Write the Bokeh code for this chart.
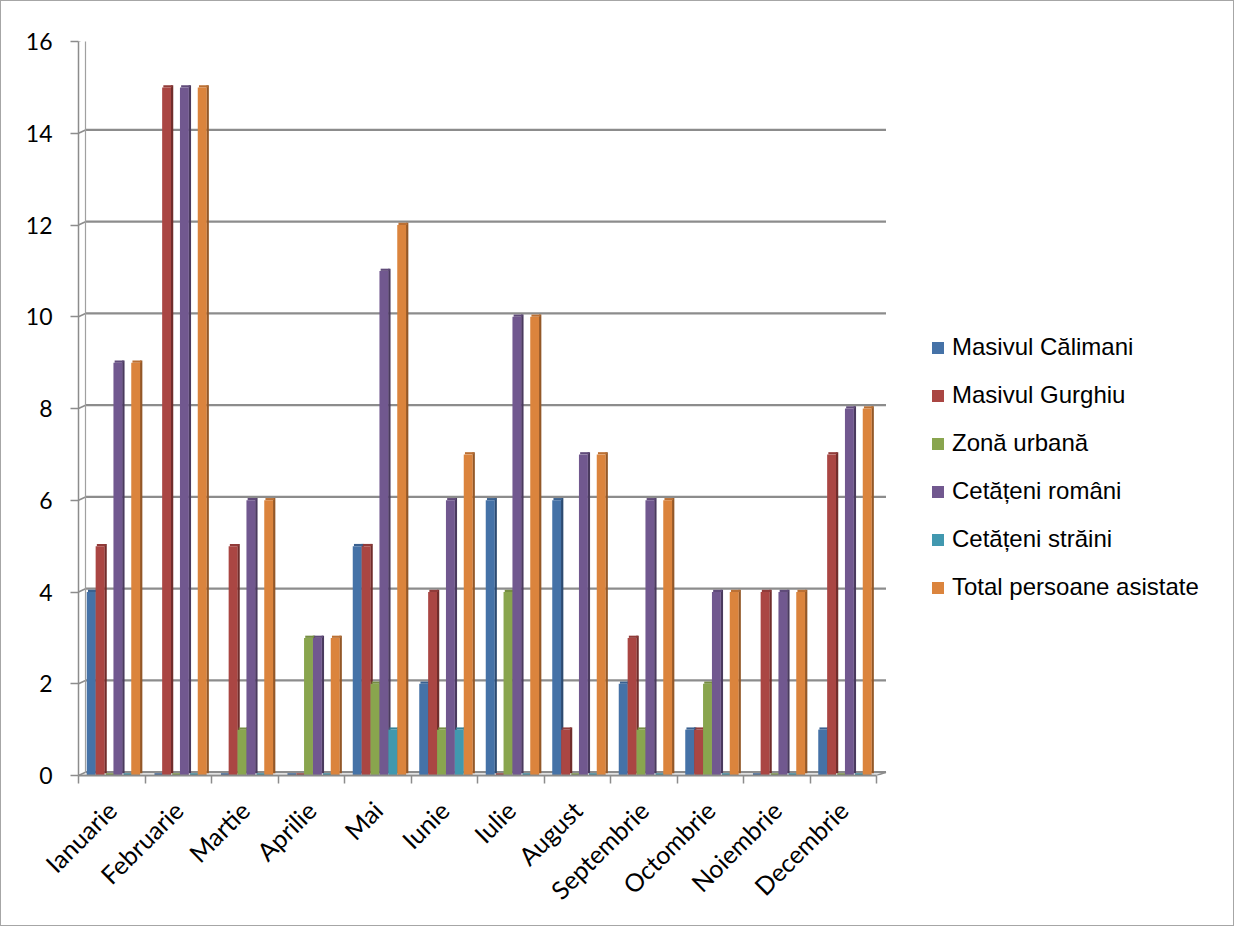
import math
from bokeh.plotting import figure
from bokeh.models import Range1d, FixedTicker, Legend, LegendItem
from bokeh.embed import file_html
from bokeh.resources import INLINE

months = ["Ianuarie", "Februarie", "Martie", "Aprilie", "Mai", "Iunie", "Iulie",
          "August", "Septembrie", "Octombrie", "Noiembrie", "Decembrie"]
series_names = ["Masivul Călimani", "Masivul Gurghiu", "Zonă urbană",
                "Cetățeni români", "Cetățeni străini", "Total persoane asistate"]
calimani = [4, 0, 0, 0, 5, 2, 6, 6, 2, 1, 0, 1]
gurghiu = [5, 15, 5, 0, 5, 4, 0, 1, 3, 1, 4, 7]
urbana = [0, 0, 1, 3, 2, 1, 4, 0, 1, 2, 0, 0]
romani = [9, 15, 6, 3, 11, 6, 10, 7, 6, 4, 4, 8]
straini = [0, 0, 0, 0, 1, 1, 0, 0, 0, 0, 0, 0]
total = [9, 15, 6, 3, 12, 7, 10, 7, 6, 4, 4, 8]
y_ticks = [0, 2, 4, 6, 8, 10, 12, 14, 16]

series = [calimani, gurghiu, urbana, romani, straini, total]
face_colors = ["#4572A7", "#AA4643", "#89A54E", "#71588F", "#4198AF", "#DB843D"]
cap_colors = ["#3A6190", "#913B39", "#758D42", "#604B7A", "#378296", "#BB7034"]
side_colors = ["#2C4A70", "#702D2B", "#5A6D33", "#4A3A5E", "#2B6574", "#935828"]

W, H = 1234, 926
LEFT, RIGHT, TOP, BOTTOM = 77, 4, 40, 152
PX = 66.5                          # pixels per category
PY = (H - TOP - BOTTOM) / 16       # pixels per y unit
x_start = -0.5
x_grid_end = -0.5 + (884.5 - LEFT) / PX
x_end = -0.5 + (W - LEFT - RIGHT) / PX

p = figure(width=W, height=H, output_backend="svg", toolbar_location=None,
           x_range=Range1d(x_start, x_end), y_range=Range1d(0, 16),
           min_border_left=LEFT, min_border_right=RIGHT, min_border_top=TOP,
           min_border_bottom=BOTTOM)
p.outline_line_color = None
p.xgrid.grid_line_color = None
p.ygrid.grid_line_color = None
p.background_fill_color = "white"
p.border_fill_color = "white"
p.styles = {"border": "1px solid #a6a6a6"}

grid_col = "#8c8c8c"
dx_back = 7 / PX
dy_back = 3.3 / PY
# back-wall gridlines and their diagonal joins to the front axis
p.segment(x0=[x_start + dx_back] * len(y_ticks), y0=[t + dy_back for t in y_ticks],
          x1=[x_grid_end] * len(y_ticks), y1=[t + dy_back for t in y_ticks],
          line_color=grid_col, line_width=2.2)
p.segment(x0=[x_start] * len(y_ticks), y0=y_ticks,
          x1=[x_start + dx_back] * len(y_ticks), y1=[t + dy_back for t in y_ticks],
          line_color=grid_col, line_width=1.5)
p.segment(x0=[x_start + dx_back], y0=[dy_back], x1=[x_start + dx_back], y1=[16 + dy_back],
          line_color="#a0a0a0", line_width=1.2)
p.segment(x0=[len(months) - 0.5], y0=[0], x1=[x_grid_end], y1=[dy_back],
          line_color=grid_col, line_width=1.5)

w = 8.9 / PX
sw = 2.4 / PX
cap = 2.2 / PY
shift = 1.7 / PX
items = []
for k, vals in enumerate(series):
    xf = [i + (k - 2.5) * w + shift for i in range(len(months))]
    p.vbar(x=[x + w / 2 + sw / 2 - 0.2 / PX for x in xf], width=sw,
           bottom=cap, top=[v + cap for v in vals],
           fill_color=side_colors[k], line_color=None)
    p.vbar(x=[x + sw / 2 for x in xf], width=w, bottom=vals,
           top=[v + cap for v in vals], fill_color=cap_colors[k], line_color=None)
    r = p.vbar(x=xf, width=w, bottom=0, top=vals,
               fill_color=face_colors[k], line_color=None)
    items.append(LegendItem(label=series_names[k], renderers=[r]))

# axes
yax = p.yaxis[0]
yax.ticker = FixedTicker(ticks=y_ticks)
yax.axis_line_color = "#8c8c8c"
yax.axis_line_width = 1.5
yax.major_tick_line_color = "#8c8c8c"
yax.major_tick_line_width = 1.5
yax.major_tick_out = 8
yax.major_tick_in = 0
yax.minor_tick_line_color = None
yax.major_label_standoff = 18
yax.major_label_text_font = "Lato"
yax.major_label_text_font_size = "23px"
yax.major_label_text_color = "black"

xax = p.xaxis[0]
xax.ticker = FixedTicker(ticks=list(range(len(months))),
                         minor_ticks=[i - 0.5 for i in range(len(months) + 1)])
xax.major_label_overrides = {i: m for i, m in enumerate(months)}
xax.bounds = (-0.5, len(months) - 0.5)
xax.axis_line_color = "#8c8c8c"
xax.axis_line_width = 2
xax.major_tick_line_color = None
xax.major_tick_out = 0
xax.major_tick_in = 0
xax.minor_tick_line_color = "#8c8c8c"
xax.minor_tick_line_width = 1.5
xax.minor_tick_out = 8
xax.minor_tick_in = 0
xax.major_label_orientation = math.pi / 4
xax.major_label_standoff = 22
xax.major_label_text_font = "Lato"
xax.major_label_text_font_size = "25px"
xax.major_label_text_color = "black"

legend = Legend(items=items, location=(852, 173))
legend.border_line_color = None
legend.background_fill_alpha = 0
legend.glyph_width = 15
legend.glyph_height = 15
legend.label_standoff = 7
legend.label_height = 30
legend.spacing = 18
legend.padding = 10
legend.margin = 0
legend.label_text_font = "Liberation Sans"
legend.label_text_font_size = "24px"
legend.label_text_color = "black"
p.add_layout(legend, "center")

open("out.html", "w").write(file_html(p, INLINE))
